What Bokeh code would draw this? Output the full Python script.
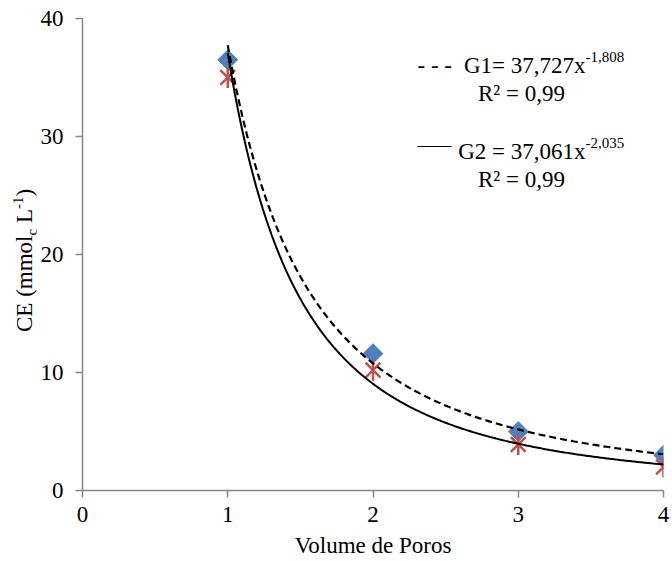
import numpy as np
from bokeh.plotting import figure
from bokeh.layouts import row
from bokeh.models import Range1d, Label, FixedTicker, Div
from bokeh.embed import file_html
from bokeh.resources import INLINE

# ---- data ----
x_vals = [1, 2, 3, 4]
g1_vals = [36.5, 11.6, 5.0, 3.0]     # blue diamonds
g2_vals = [35.0, 10.2, 3.9, 2.0]     # red stars
x_ticks = [0, 1, 2, 3, 4]
y_ticks = [0, 10, 20, 30, 40]
g1_coef, g1_exp = 37.727, -1.808
g2_coef, g2_exp = 37.061, -2.035
g1_eq = "G1= 37,727x"
g1_sup = "-1,808"
g2_eq = "G2 = 37,061x"
g2_sup = "-2,035"
r2_text = "R² = 0,99"
x_title = "Volume de Poros"
y_title = ("CE", "(mmol", "c", "L", "-1", ")")

FONT = "Liberation Serif"
FS = "23px"

W, H = 672, 561
LW = 36                      # width of the strip holding the y title
L, R, T, B = 82, 663, 18, 490

# ---- rotated y-axis title as HTML (keeps sub/superscript as real text) ----
a, b, c, d, e, f = y_title
html = (
    '<div style="position:relative;width:%dpx;height:%dpx;overflow:visible;">'
    '<div style="position:absolute;left:13px;top:332px;transform-origin:0 0;'
    'transform:rotate(-90deg);white-space:nowrap;font-family:\'Liberation Serif\';'
    'font-size:23px;line-height:23px;color:black;">'
    '%s (%s<span style="font-size:15px;position:relative;top:5px;">%s</span> %s'
    '<span style="font-size:15px;position:relative;top:-9px;">%s</span>%s</div></div>'
) % (LW, H, a, b[1:], c, d, e, f)
strip = Div(text=html, width=LW, height=H, margin=0)

# ---- main plot ----
p = figure(width=W - LW, height=H, x_range=Range1d(0, 4), y_range=Range1d(0, 40),
           output_backend="svg", toolbar_location=None,
           min_border_left=L - LW, min_border_right=W - R, min_border_top=T,
           min_border_bottom=H - B)
p.background_fill_color = "white"
p.border_fill_color = "white"
p.outline_line_color = None
p.grid.visible = False

xs = np.linspace(1, 4, 300)
p.scatter(x_vals, g1_vals, marker="square", size=14, angle=np.pi / 4,
          fill_color="#4F81BD", line_color="#4F81BD")
p.scatter(x_vals, g2_vals, marker="x", size=21, line_color="#C0504D", line_width=2.5)
p.scatter(x_vals, g2_vals, marker="dash", size=21, angle=np.pi / 2,
          line_color="#C0504D", line_width=2.5)
p.line(xs, g1_coef * xs ** g1_exp, line_color="black", line_width=2.2, line_dash="7 4")
p.line(xs, g2_coef * xs ** g2_exp, line_color="black", line_width=2)

p.xaxis.ticker = FixedTicker(ticks=x_ticks)
p.yaxis.ticker = FixedTicker(ticks=y_ticks)
for ax in (p.xaxis[0], p.yaxis[0]):
    ax.axis_line_color = "#868686"
    ax.axis_line_width = 1.5
    ax.major_tick_line_color = "#868686"
    ax.major_tick_line_width = 1.5
    ax.major_tick_out = 7
    ax.major_tick_in = 0
    ax.minor_tick_out = 0
    ax.minor_tick_in = 0
    ax.major_label_text_font = FONT
    ax.major_label_text_font_size = FS
    ax.major_label_text_color = "black"
p.yaxis[0].major_label_standoff = 12
p.xaxis[0].major_label_standoff = 9
p.xaxis[0].axis_label = x_title
p.xaxis[0].axis_label_text_font = FONT
p.xaxis[0].axis_label_text_font_size = FS
p.xaxis[0].axis_label_text_font_style = "normal"
p.xaxis[0].axis_label_text_color = "black"
p.xaxis[0].axis_label_standoff = 8


def dx(px):
    return (px - L) / ((R - L) / 4)


def dy(py):
    return (B - py) / ((B - T) / 40)


def lab(text, px, py, size=FS, align="left"):
    p.add_layout(Label(x=dx(px), y=dy(py), text=text, text_font=FONT,
                       text_font_size=size, text_color="black", text_align=align,
                       text_baseline="alphabetic"))


lab("- - -", 417, 65)
lab(g1_eq, 585, 65, align="right")
lab(g1_sup, 585, 56, size="15px")
lab(r2_text, 521, 93, align="center")
lab("——", 451, 144, size="17px", align="right")
lab(g2_eq, 585, 151, align="right")
lab(g2_sup, 585, 142, size="15px")
lab(r2_text, 521, 179, align="center")

layout = row(strip, p, spacing=0)
open("out.html", "w").write(file_html(layout, INLINE))
